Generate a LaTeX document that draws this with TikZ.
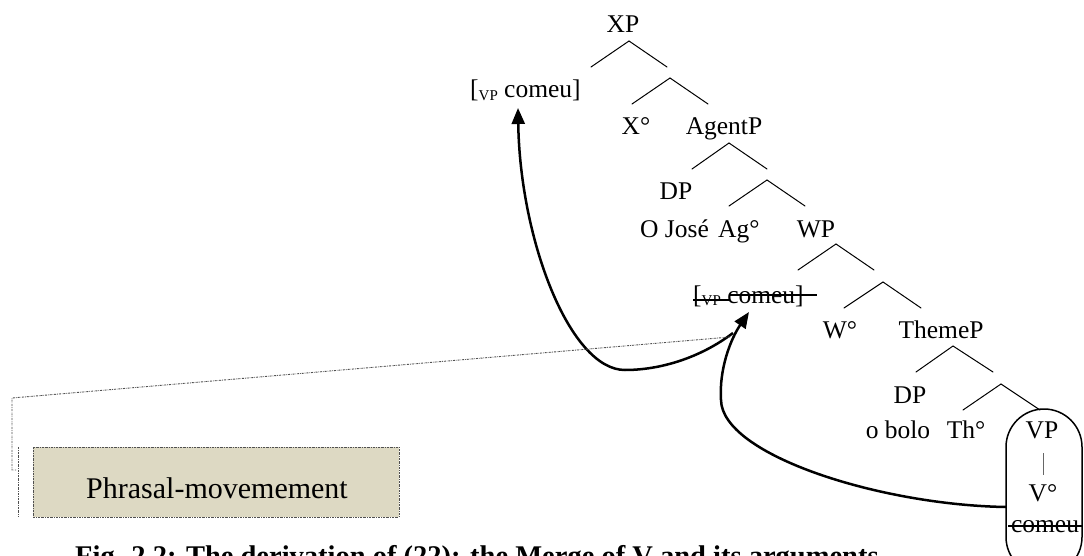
\documentclass[tikz,border=0pt]{standalone}
\usepackage{fontspec}
\setmainfont{Liberation Serif}
\usetikzlibrary{arrows.meta}
\definecolor{boxfill}{RGB}{221,217,195}
\definecolor{calloutgray}{RGB}{80,80,80}
\newcommand\vpsubscript{\raisebox{-2.5pt}{\fontsize{15}{15}\selectfont VP}}
\begin{document}
\begin{tikzpicture}[x=1pt,y=-1pt,
  lab/.style={inner sep=0pt, anchor=base, font=\fontsize{25.5}{30}\selectfont},
  branch/.style={line width=1pt, line cap=round},
  strike/.style={line width=1.6pt},
  move/.style={line width=2.5pt, -{Triangle[length=16pt,width=13pt]}},
  callout/.style={line width=0.9pt, calloutgray, dash pattern=on 2pt off 1pt on 0.6pt off 1pt},
]
\useasboundingbox (0,0) rectangle (1084,556);
\clip (0,0) rectangle (1084,556);

% ---- tree labels ----
\node[lab] (xp) at (623,33) {XP};
\node[lab, anchor=base west] (vptop) at (470,98) {[\vpsubscript{} comeu]};
\node[lab] (xo) at (636,135) {X°};
\node[lab] (agentp) at (724,135) {AgentP};
\node[lab] (dpa) at (676,200) {DP};
\node[lab, anchor=base west] (jose) at (640,237) {O José};
\node[lab, anchor=base west] (ago) at (718,237) {Ag°};
\node[lab] (wp) at (816,237) {WP};
\node[lab, anchor=base west] (vplow) at (693,303) {[\vpsubscript{} comeu]};
\node[lab] (wo) at (840,338) {W°};
\node[lab] (themep) at (941,338) {ThemeP};
\node[lab] (dpb) at (910,403) {DP};
\node[lab] (bolo) at (898,438) {o bolo};
\node[lab] (tho) at (966,438) {Th°};
\node[lab] (vp) at (1042,438) {VP};
\node[lab] (vo) at (1043,501) {V°};
\node[lab] (comeu) at (1045,532) {comeu};

% struck-through copies
\draw[strike] (693,300) -- (730,300);
\draw[strike] (730,295) -- (817,295);
\draw[strike] (1008,526) -- (1082,526);

% VP -- V° bar
\draw[line width=1pt, black!60] (1043,453) -- (1043,475);

% capsule round the verb phrase
\node[draw, line width=1.5pt, rounded corners=38pt, minimum width=76pt,
      minimum height=166pt, inner sep=0pt] (vpbox) at (1044,492) {};

% ---- branches ----
\foreach \ax/\ay/\lx/\rx/\by [count=\i] in {
  629/41/591/667/67, 670/78/632/708/104, 729/143/692/767/169,
  767/180/729/805/206, 836/244/798/874/270, 883/282/844/921/308,
  953/346/916/993/372, 1001/384/963/1040/410}{
  \coordinate (apex\i) at (\ax,\ay);
  \coordinate (left\i) at (\lx,\by);
  \coordinate (right\i) at (\rx,\by);
  \draw[branch] (left\i) -- (apex\i) -- (right\i);
}

% ---- movement arrows ----
\coordinate (join) at (733,333);
\coordinate (low) at (625,370);
\coordinate (tiptop) at (518,108);
\coordinate (vpstart) at (1006,507);
\coordinate (bend) at (721,400);
\coordinate (tiplow) at (749,312);

\draw[move] (join) .. controls (700,358) and (660,370) .. (low)
  .. controls (570,370) and (520,240) .. (tiptop);
\draw[move] (vpstart) .. controls (880,505) and (722,455) .. (bend)
  .. controls (719,370) and (730,340) .. (tiplow);

% ---- callout ----
\coordinate (cpoint) at (730,337);
\coordinate (celbow) at (12,398);
\coordinate (cfoot) at (12,470);
\coordinate (cend) at (16,470);
\draw[callout] (cpoint) -- (celbow) -- (cfoot) -- (cend);
\coordinate (bartop) at (18,447);
\coordinate (barbot) at (18,517);
\draw[callout] (bartop) -- (barbot);

\node[draw=calloutgray, fill=boxfill, line width=0.9pt,
      dash pattern=on 2pt off 1pt on 0.6pt off 1pt,
      minimum width=366pt, minimum height=70pt, inner sep=0pt] (pbox) at (216,482) {};
\node[inner sep=0pt, anchor=base, font=\fontsize{30}{36}\selectfont] (ptext) at (217,498) {Phrasal-movemement};

% ---- caption ----
\node[inner sep=0pt, anchor=base west, font=\fontsize{28.5}{34}\selectfont\bfseries] (cap) at (75,565)
  {Fig. 2.2: The derivation of (22): the Merge of V and its arguments};
\end{tikzpicture}
\end{document}
